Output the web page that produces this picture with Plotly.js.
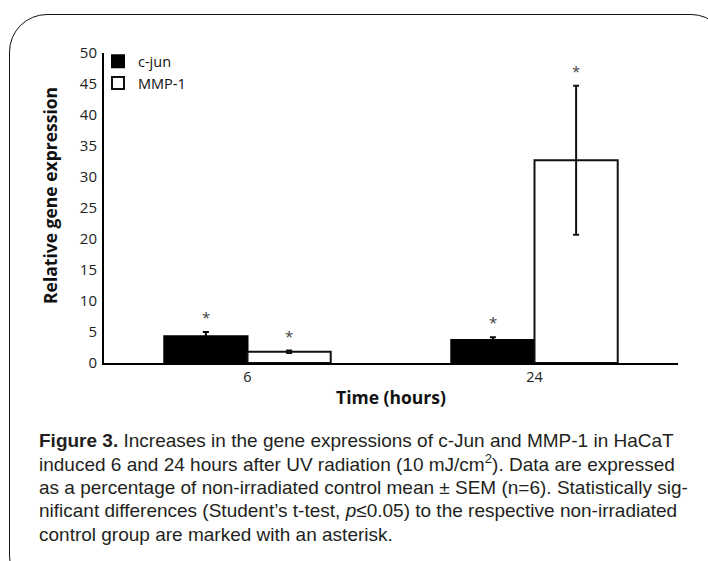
<!DOCTYPE html>
<html>
<head>
<meta charset="utf-8">
<script src="https://cdn.plot.ly/plotly-3.0.1.min.js"></script>
<style>
html,body{margin:0;padding:0;width:708px;height:561px;overflow:hidden;background:#fff;}
#frame{position:absolute;left:9px;top:14px;width:720px;height:580px;border:1.6px solid #111;border-radius:38px;box-sizing:border-box;pointer-events:none;z-index:5;}
#chart{position:absolute;left:0;top:0;width:708px;height:561px;}
</style>
</head>
<body>
<div id="chart"></div>
<div id="frame"></div>
<script>
const categories = ['6', '24'];
const seriesNames = ['c-jun', 'MMP-1'];
const cjun = [4.3, 3.7];
const cjunErr = [0.7, 0.45];
const mmp1 = [1.8, 32.7];
const mmp1Err = [0.2, 12.0];
const significant = [[true, true], [true, true]]; // [series][category]
const yTicks = [0, 5, 10, 15, 20, 25, 30, 35, 40, 45, 50];
const captionLines = [
  '<b>Figure 3.</b> Increases in the gene expressions of c-Jun and MMP-1 in HaCaT',
  'induced 6 and 24 hours after UV radiation (10 mJ/cm<sup>2</sup>). Data are expressed',
  'as a percentage of non-irradiated control mean ± SEM (n=6). Statistically sig-',
  'nificant differences (Student’s t-test, <i>p</i>≤0.05) to the respective non-irradiated',
  'control group are marked with an asterisk.'
];

const FONT = '"Open Sans", "Noto Sans", sans-serif';
const CAPFONT = '"Liberation Sans", Arial, sans-serif';

const traces = [
  {
    type: 'bar', name: seriesNames[0], x: categories, y: cjun,
    marker: {color: '#000', line: {color: '#000', width: 2}},
    error_y: {type: 'data', array: cjunErr, visible: true, color: '#000', thickness: 2, width: 3}
  },
  {
    type: 'bar', name: seriesNames[1], x: categories, y: mmp1,
    marker: {color: '#fff', line: {color: '#111', width: 2}},
    error_y: {type: 'data', array: mmp1Err, visible: true, color: '#111', thickness: 2, width: 3}
  }
];

const annotations = [];
const vals = [cjun, mmp1], errs = [cjunErr, mmp1Err];
for (let s = 0; s < 2; s++) {
  for (let c = 0; c < categories.length; c++) {
    if (!significant[s][c]) continue;
    annotations.push({
      x: c, y: vals[s][c] + errs[s][c], xref: 'x', yref: 'y',
      text: '*', showarrow: false, xshift: s === 0 ? -41.5 : 41.5, yshift: 15,
      yanchor: 'middle', font: {family: FONT, size: 15, color: '#444'}
    });
  }
}
// y-axis title
annotations.push({
  xref: 'paper', yref: 'paper', x: (50 - 104) / 574, y: 1 - (196 - 53) / 310,
  text: '<b>Relative gene expression</b>', textangle: -90, showarrow: false,
  xanchor: 'center', yanchor: 'middle', font: {family: FONT, size: 17.5, color: '#111'}
});
// caption
const capY = [440, 463, 487, 510, 534];
captionLines.forEach((t, i) => {
  annotations.push({
    xref: 'paper', yref: 'paper', x: (37 - 104) / 574, y: (363 - capY[i]) / 310,
    text: t, showarrow: false, xanchor: 'left', yanchor: 'middle', align: 'left',
    font: {family: CAPFONT, size: 19, color: '#231f20'}
  });
});

const layout = {
  width: 708, height: 561,
  margin: {l: 104, r: 30, t: 53, b: 198},
  paper_bgcolor: '#fff', plot_bgcolor: '#fff',
  barmode: 'group', bargap: 0.42, bargroupgap: 0,
  showlegend: true,
  legend: {x: (98 - 104) / 574, y: 1.025, xanchor: 'left', yanchor: 'top', bgcolor: 'rgba(0,0,0,0)',
    font: {family: FONT, size: 14.5, color: '#111'}, itemwidth: 30, tracegroupgap: 2},
  xaxis: {
    type: 'category', categoryorder: 'array', categoryarray: categories,
    showline: true, linecolor: '#000', linewidth: 2,
    ticks: '', showgrid: false, zeroline: false,
    tickfont: {family: FONT, size: 14.5, color: '#222'},
    title: {text: '<b>Time (hours)</b>', font: {family: FONT, size: 17.5, color: '#111'}, standoff: 6}
  },
  yaxis: {
    range: [0, 50], tickvals: yTicks, showline: true, linecolor: '#000', linewidth: 2,
    ticks: '', showgrid: false, zeroline: false, ticklabelstandoff: 2,
    tickfont: {family: FONT, size: 15, color: '#222'}
  },
  annotations: annotations
};

Plotly.newPlot('chart', traces, layout, {displayModeBar: false, staticPlot: true});
</script>
</body>
</html>
